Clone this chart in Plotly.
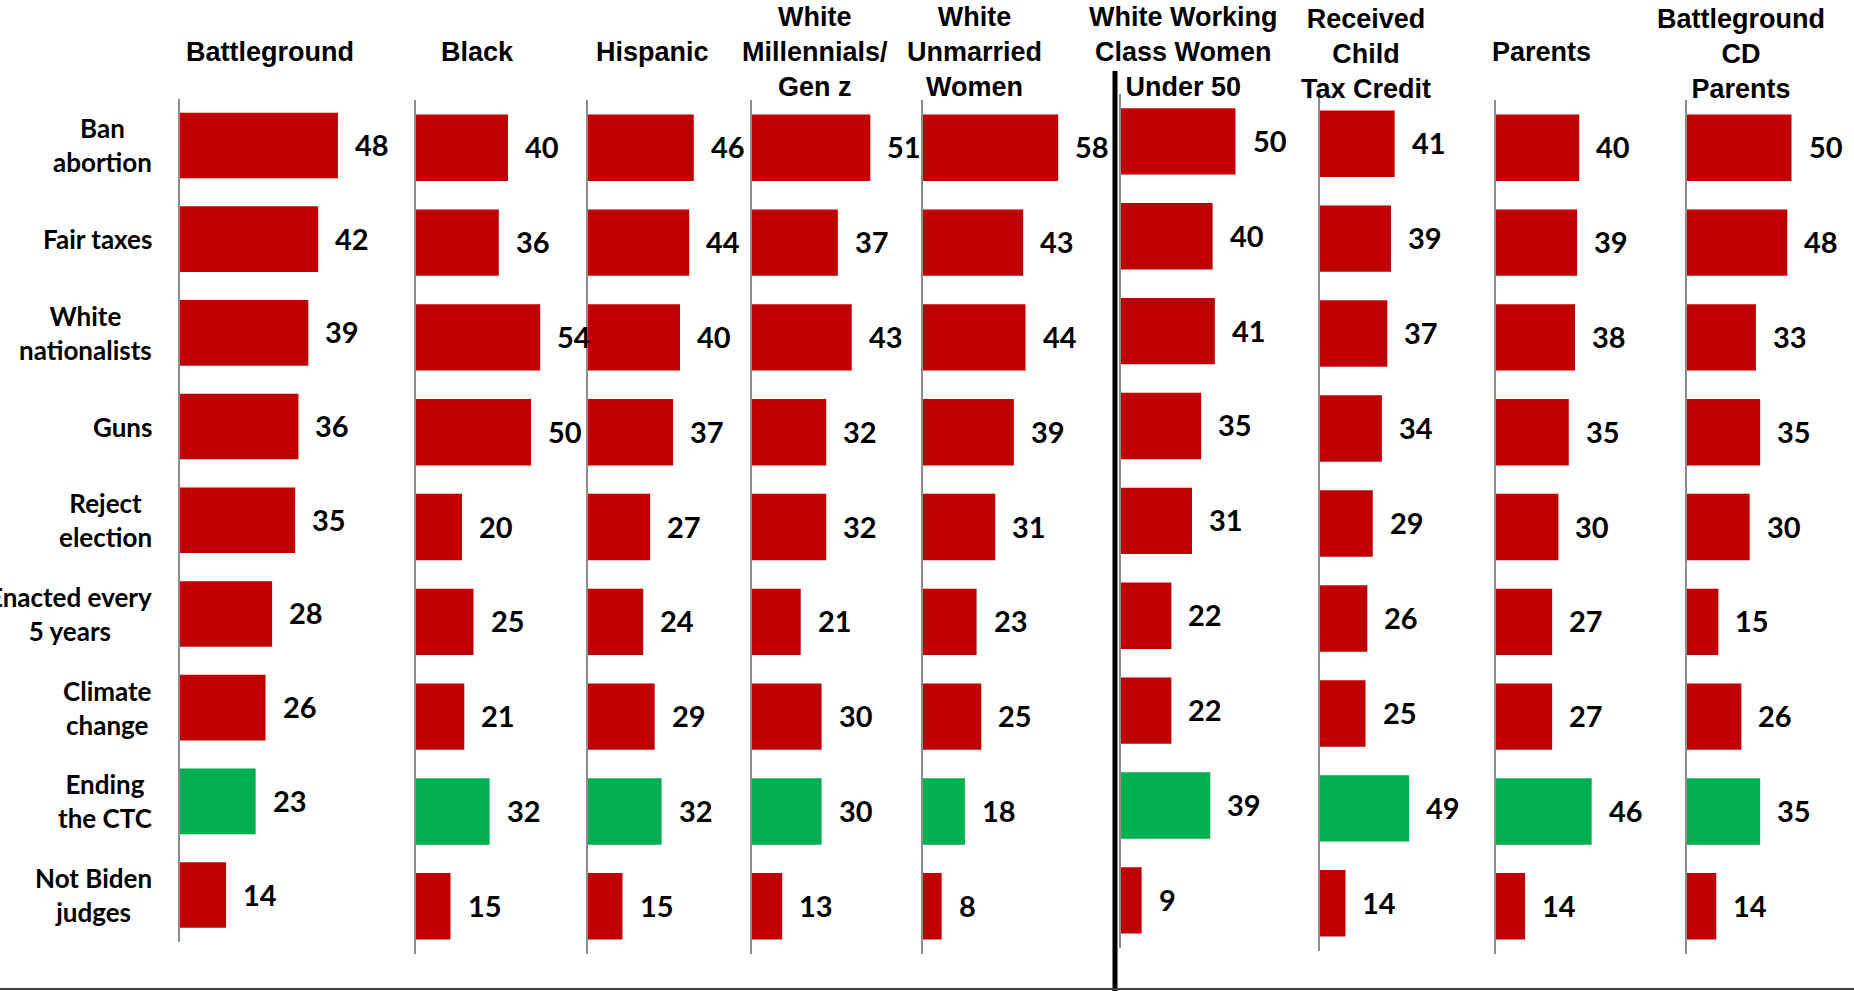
import plotly.graph_objects as go

# ---------------- data ----------------
categories = ["Ban<br>abortion", "Fair taxes", "White<br>nationalists", "Guns",
              "Reject<br>election", "Enacted every<br>5 years", "Climate<br>change",
              "Ending<br>the CTC", "Not Biden<br>judges"]

groups = ["Battleground", "Black", "Hispanic", "White<br>Millennials/<br>Gen z",
          "White<br>Unmarried<br>Women", "White Working<br>Class Women<br>Under 50",
          "Received<br>Child<br>Tax Credit", "Parents", "Battleground<br>CD<br>Parents"]

battleground = [48, 42, 39, 36, 35, 28, 26, 23, 14]
black = [40, 36, 54, 50, 20, 25, 21, 32, 15]
hispanic = [46, 44, 40, 37, 27, 24, 29, 32, 15]
white_millennials = [51, 37, 43, 32, 32, 21, 30, 30, 13]
white_unmarried = [58, 43, 44, 39, 31, 23, 25, 18, 8]
wwc_women = [50, 40, 41, 35, 31, 22, 22, 39, 9]
received_ctc = [41, 39, 37, 34, 29, 26, 25, 49, 14]
parents = [40, 39, 38, 35, 30, 27, 27, 46, 14]
bg_cd_parents = [50, 48, 33, 35, 30, 15, 26, 35, 14]

series = [battleground, black, hispanic, white_millennials, white_unmarried,
          wwc_women, received_ctc, parents, bg_cd_parents]

highlight = "Ending<br>the CTC"

# ---------------- layout geometry (pixels) ----------------
W, H = 1854, 991
axis_x = [180, 416, 588, 752, 923, 1121, 1320, 1496, 1687]
px_per_unit = [3.29, 2.30, 2.30, 2.32, 2.33, 2.29, 1.82, 2.08, 2.09]
y_dom_px = [(98.6, 941.9), (100.4, 953.7), (100.4, 953.7), (100.4, 953.7), (100.4, 953.7),
            (93.9, 947.8), (96.2, 950.8), (100.4, 953.7), (100.4, 953.7)]
title_x = [270, 477, 652, 815, 974, 1183, 1366, 1541, 1741]
title_y = [52, 52, 52, 52, 52, 52, 54, 52, 54]

RED = "#C00000"
GREEN = "#00B050"
AXIS_GREY = "#8C8C8C"
LABEL_FONT = "Lato, 'Noto Sans', sans-serif"
TITLE_FONT = "'Liberation Sans', Arial, sans-serif"

fig = go.Figure()
annotations = []
layout_axes = {}

for i, vals in enumerate(series):
    n = i + 1
    xa = "x" if n == 1 else f"x{n}"
    ya = "y" if n == 1 else f"y{n}"
    x0 = axis_x[i]
    x1 = axis_x[i + 1] - 2 if i + 1 < len(axis_x) else W - 2
    rng = (x1 - x0) / px_per_unit[i]
    colors = [GREEN if c == highlight else RED for c in categories]
    fig.add_trace(go.Bar(
        x=vals, y=categories, orientation="h", xaxis=xa, yaxis=ya,
        marker=dict(color=colors, line=dict(width=0)), width=0.70,
        hoverinfo="skip", showlegend=False,
    ))
    xkey = "xaxis" if n == 1 else f"xaxis{n}"
    ykey = "yaxis" if n == 1 else f"yaxis{n}"
    layout_axes[xkey] = dict(domain=[x0 / W, x1 / W], range=[0, rng], visible=False,
                             anchor=ya, fixedrange=True)
    yt, yb = y_dom_px[i]
    layout_axes[ykey] = dict(domain=[1 - yb / H, 1 - yt / H], anchor=xa,
                             categoryorder="array", categoryarray=categories,
                             autorange="reversed", showline=True, linecolor=AXIS_GREY,
                             linewidth=2, showgrid=False, zeroline=False,
                             showticklabels=False, ticks="", fixedrange=True)
    # value labels
    for c, v in zip(categories, vals):
        annotations.append(dict(
            x=v, y=c, xref=xa, yref=ya, text=f"<b>{v}</b>", showarrow=False,
            xanchor="left", yanchor="middle", xshift=15, yshift=1,
            font=dict(family=LABEL_FONT, size=29, color="black")))
    # group titles
    annotations.append(dict(
        x=title_x[i] / W, y=1 - title_y[i] / H, xref="paper", yref="paper",
        text=f"<b>{groups[i]}</b>", showarrow=False, xanchor="center", yanchor="middle",
        align="center", font=dict(family=TITLE_FONT, size=27, color="black")))

# category labels (left side)
for c in categories:
    annotations.append(dict(
        x=154 / W, y=c, xref="paper", yref="y", text=f"<b>{c}</b>", showarrow=False,
        xanchor="right", yanchor="middle", align="center",
        font=dict(family=LABEL_FONT, size=26, color="black")))

shapes = [
    dict(type="line", xref="paper", yref="paper", x0=1115 / W, x1=1115 / W,
         y0=0, y1=1 - 71 / H, line=dict(color="black", width=5)),
    dict(type="line", xref="paper", yref="paper", x0=0, x1=1, y0=1 - 989 / H,
         y1=1 - 989 / H, line=dict(color="#404040", width=2)),
]

fig.update_layout(
    width=W, height=H, margin=dict(l=0, r=0, t=0, b=0),
    paper_bgcolor="white", plot_bgcolor="rgba(0,0,0,0)",
    annotations=annotations, shapes=shapes, bargap=0.3,
    **layout_axes,
)

fig.write_html("out.html", config={"displayModeBar": False},
               post_script="document.body.style.margin='0px';document.body.style.overflow='hidden';")
